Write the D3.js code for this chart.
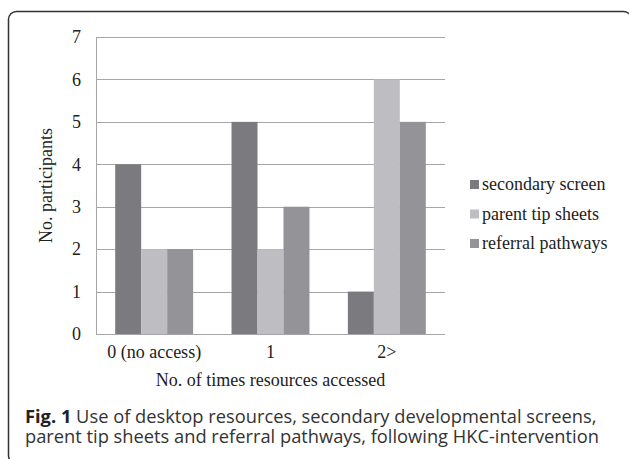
<!DOCTYPE html>
<html>
<head>
<meta charset="utf-8">
<script src="https://cdn.jsdelivr.net/npm/d3@7"></script>
<style>
  html, body { margin: 0; padding: 0; background: #fff; }
  svg { display: block; }
</style>
</head>
<body>
<svg id="chart" width="629" height="459"></svg>
<script>
// Resource access counts per participant group
const categories = ["0 (no access)", "1", "2>"];
const seriesNames = ["secondary screen", "parent tip sheets", "referral pathways"];
const secondaryScreen = [4, 5, 1];
const parentTipSheets = [2, 2, 6];
const referralPathways = [2, 3, 5];
const yTicks = [0, 1, 2, 3, 4, 5, 6, 7];
const seriesColors = ["#7b7b7f", "#bebec2", "#949498"];

const series = [secondaryScreen, parentTipSheets, referralPathways];

const svg = d3.select("#chart");
const serif = "'Liberation Serif', 'Times New Roman', serif";
const sans = "'Open Sans', 'Noto Sans', sans-serif";
const labelSize = 18;

// Rounded figure frame
svg.append("rect")
  .attr("x", 8.5).attr("y", 11.5)
  .attr("width", 623).attr("height", 452)
  .attr("rx", 8).attr("ry", 8)
  .attr("fill", "none")
  .attr("stroke", "#333")
  .attr("stroke-width", 1.5);

const plot = { left: 96, right: 445, top: 37, bottom: 334 };

const x = d3.scaleBand()
  .domain(categories)
  .range([plot.left, plot.right])
  .paddingInner(0.33)
  .paddingOuter(0.165);

const xs = d3.scaleBand()
  .domain(d3.range(series.length))
  .range([0, x.bandwidth()]);

const y = d3.scaleLinear()
  .domain([0, 7])
  .range([plot.bottom, plot.top]);

// Horizontal gridlines
svg.append("g")
  .selectAll("line")
  .data(yTicks)
  .join("line")
  .attr("x1", plot.left).attr("x2", plot.right)
  .attr("y1", d => Math.round(y(d)) + 0.5)
  .attr("y2", d => Math.round(y(d)) + 0.5)
  .attr("stroke", "#a6a6a6")
  .attr("stroke-width", 1);

// Vertical axis line
svg.append("line")
  .attr("x1", plot.left + 0.5).attr("x2", plot.left + 0.5)
  .attr("y1", plot.top).attr("y2", plot.bottom)
  .attr("stroke", "#a6a6a6");

// Bars
const groups = svg.append("g")
  .selectAll("g")
  .data(series)
  .join("g")
  .attr("fill", (d, i) => seriesColors[i]);

groups.each(function(vals, si) {
  d3.select(this).selectAll("rect")
    .data(vals)
    .join("rect")
    .attr("x", (v, ci) => x(categories[ci]) + xs(si))
    .attr("width", xs.bandwidth())
    .attr("y", v => y(v))
    .attr("height", v => y(0) - y(v));
});

// Y tick labels
svg.append("g")
  .selectAll("text")
  .data(yTicks)
  .join("text")
  .attr("x", 81)
  .attr("y", d => y(d))
  .attr("dy", "0.35em")
  .attr("text-anchor", "end")
  .attr("font-family", serif)
  .attr("font-size", labelSize)
  .attr("fill", "#222")
  .text(d => d);

// X category labels
svg.append("g")
  .selectAll("text")
  .data(categories)
  .join("text")
  .attr("x", d => x(d) + x.bandwidth() / 2)
  .attr("y", 358)
  .attr("text-anchor", "middle")
  .attr("font-family", serif)
  .attr("font-size", labelSize)
  .attr("fill", "#222")
  .text(d => d);

// Axis titles
svg.append("text")
  .attr("x", (plot.left + plot.right) / 2)
  .attr("y", 386)
  .attr("text-anchor", "middle")
  .attr("font-family", serif)
  .attr("font-size", labelSize)
  .attr("fill", "#222")
  .text("No. of times resources accessed");

svg.append("text")
  .attr("transform", `translate(52,${(plot.top + plot.bottom) / 2}) rotate(-90)`)
  .attr("text-anchor", "middle")
  .attr("font-family", serif)
  .attr("font-size", labelSize)
  .attr("fill", "#222")
  .text("No. participants");

// Legend
const legend = svg.append("g")
  .selectAll("g")
  .data(seriesNames)
  .join("g")
  .attr("transform", (d, i) => `translate(470,${180 + i * 29.5})`);

legend.append("rect")
  .attr("width", 9).attr("height", 9)
  .attr("fill", (d, i) => seriesColors[i]);

legend.append("text")
  .attr("x", 12).attr("y", 10)
  .attr("font-family", serif)
  .attr("font-size", labelSize)
  .attr("fill", "#222")
  .text(d => d);

// Figure caption
const caption = svg.append("text")
  .attr("font-family", sans)
  .attr("font-size", 18.3)
  .attr("fill", "#333");

const line1 = caption.append("tspan").attr("x", 25).attr("y", 423);
line1.append("tspan").attr("font-weight", "bold").attr("fill", "#222").text("Fig. 1");
line1.append("tspan").text(" Use of desktop resources, secondary developmental screens,");
caption.append("tspan").attr("x", 25).attr("y", 442.5)
  .text("parent tip sheets and referral pathways, following HKC-intervention");
</script>
</body>
</html>
